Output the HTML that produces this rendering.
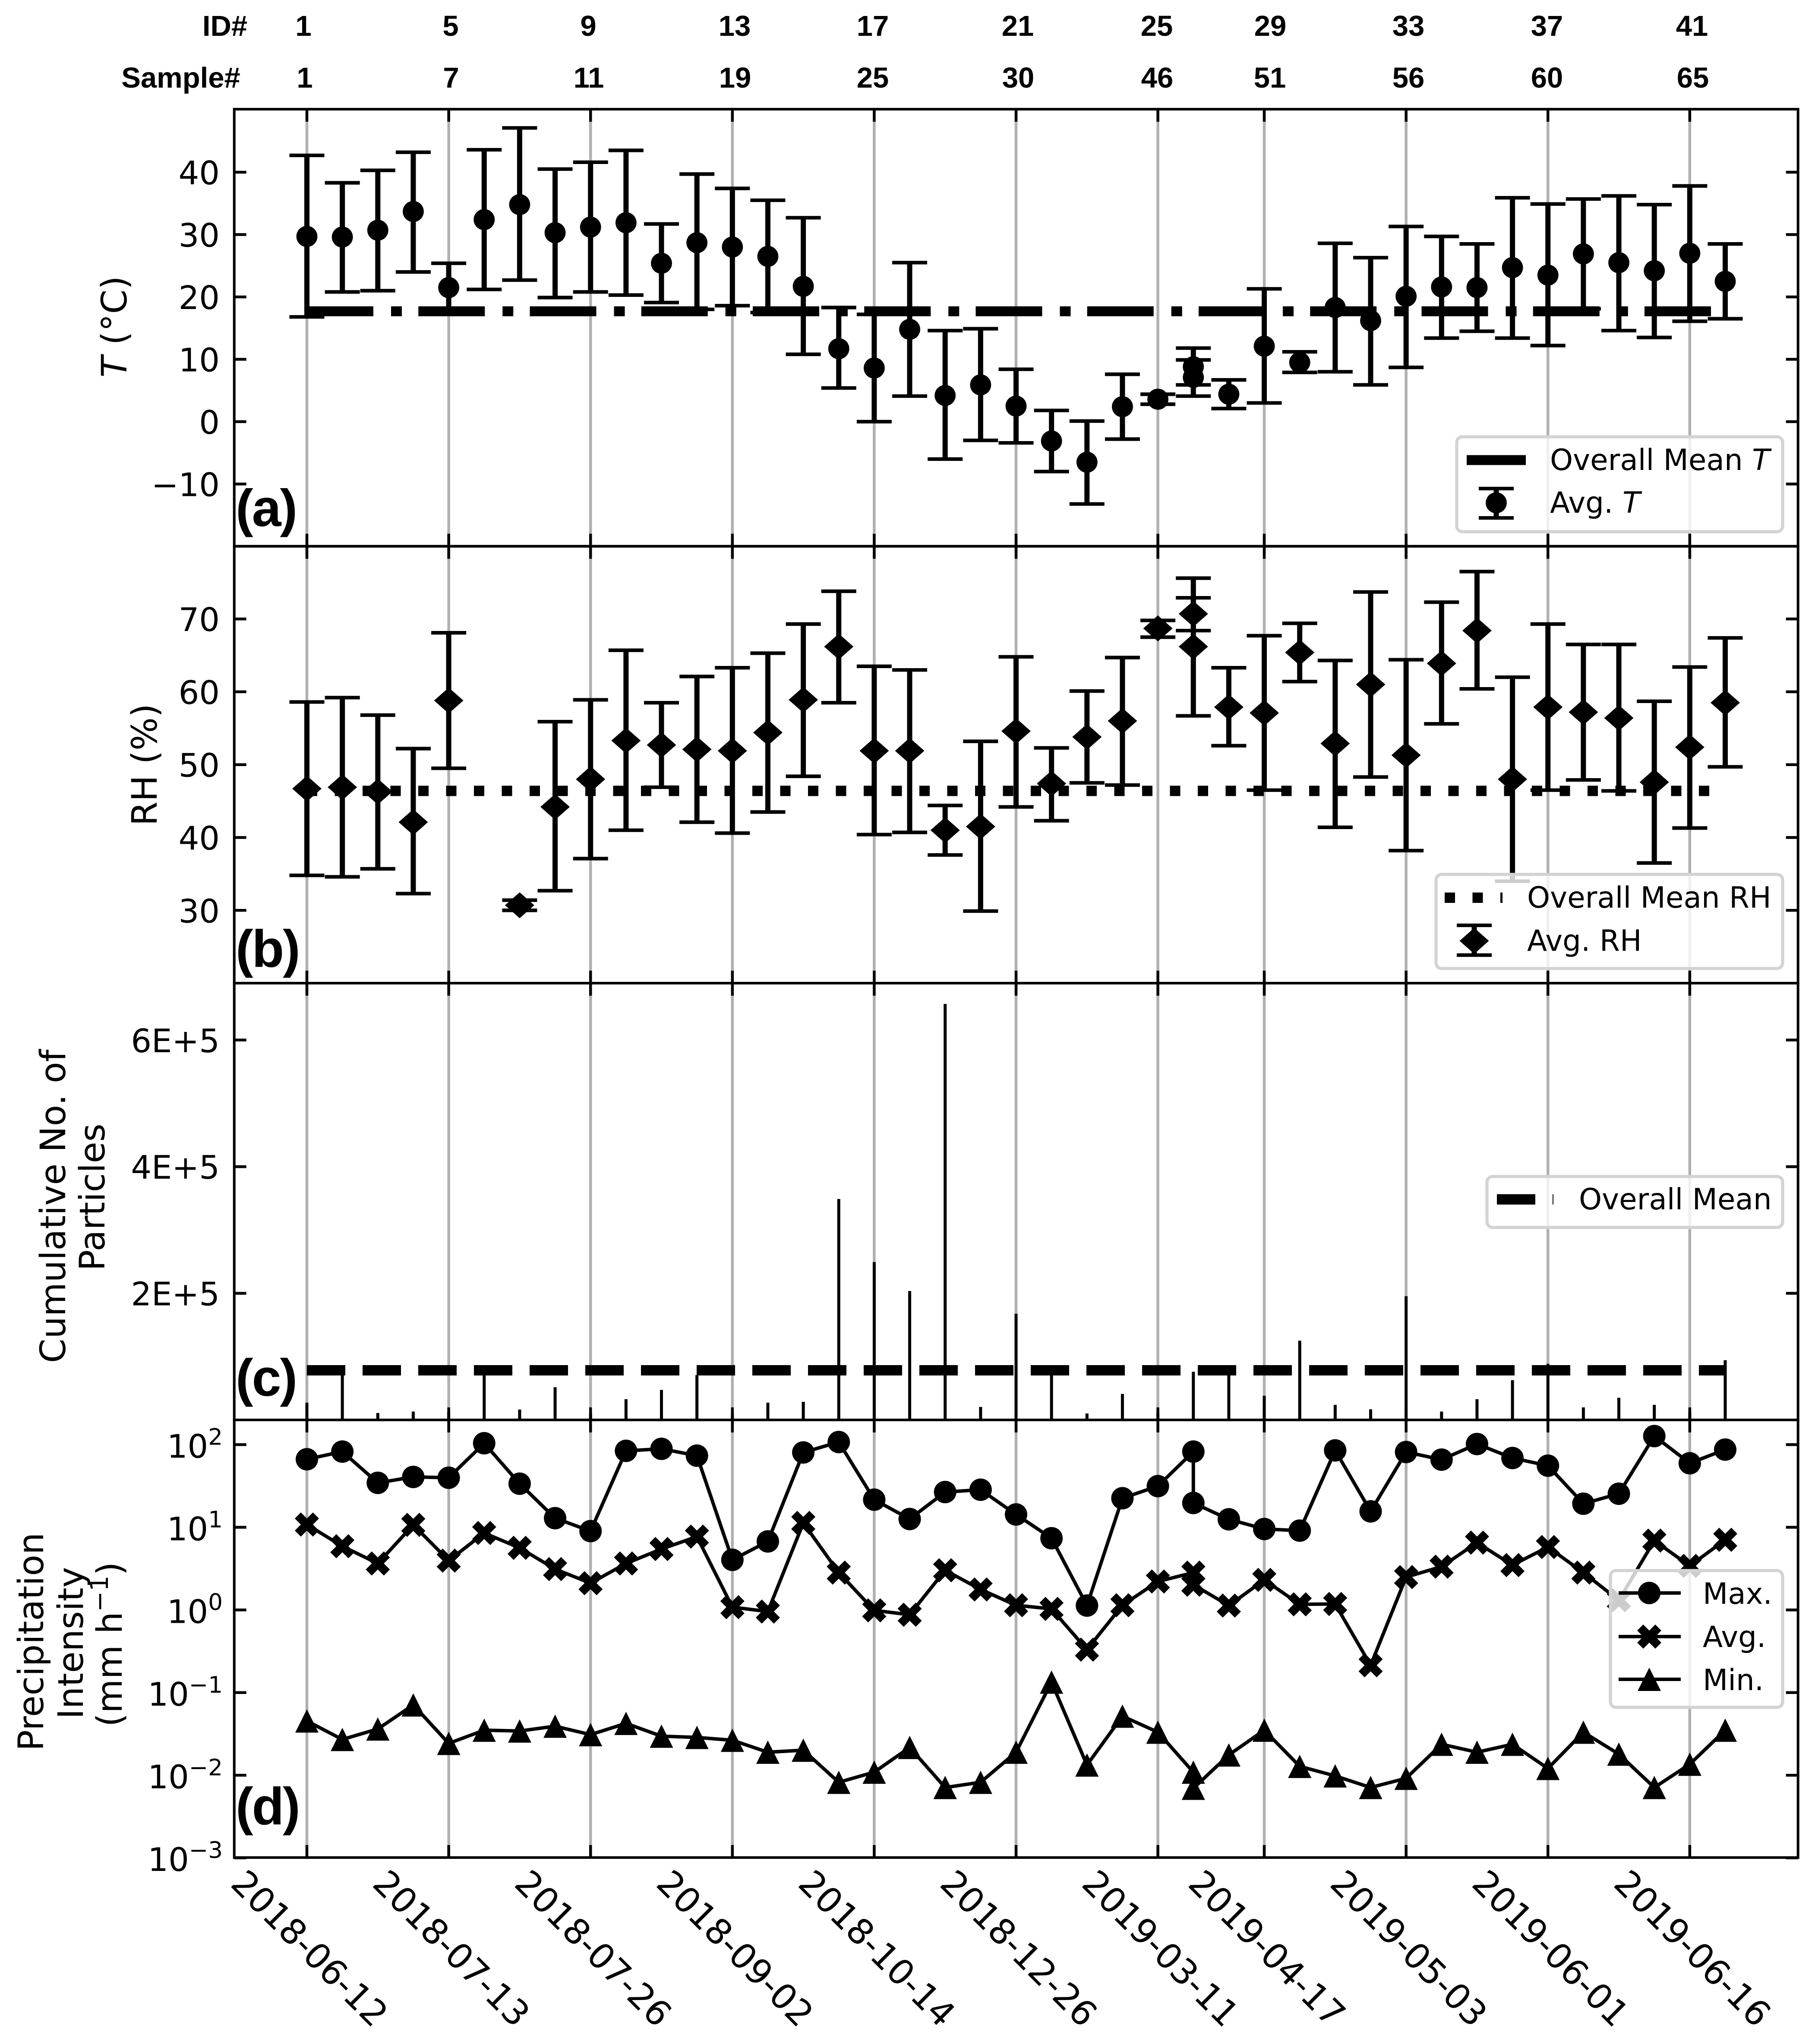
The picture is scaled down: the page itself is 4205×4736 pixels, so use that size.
<!DOCTYPE html>
<html lang="en">
<head>
<meta charset="utf-8">
<title>Sampling conditions time series</title>
<style>
html,body{margin:0;padding:0;background:#fff;}
svg{display:block;}
text{font-family:"DejaVu Sans",sans-serif;fill:#000;}
.top{font-family:"Liberation Sans",sans-serif;font-weight:700;font-size:67px;text-anchor:middle;}
.letter{font-family:"Liberation Sans",sans-serif;font-weight:700;font-size:122px;letter-spacing:-3px;}
.title{font-size:81px;text-anchor:middle;}
.tick{font-size:75px;text-anchor:end;}
.leg{font-size:67.5px;}
</style>
</head>
<body>
<svg id="chart" xmlns="http://www.w3.org/2000/svg" width="4205" height="4736" viewBox="0 0 4205 4736">
<rect x="0" y="0" width="4205" height="4736" fill="#fff"/>

<g>
<text class="top" x="521" y="83">ID#</text>
<text class="top" x="419" y="203">Sample#</text>
<text class="top" x="703" y="83">1</text>
<text class="top" x="1044" y="83">5</text>
<text class="top" x="1363" y="83">9</text>
<text class="top" x="1702" y="83">13</text>
<text class="top" x="2022" y="83">17</text>
<text class="top" x="2358" y="83">21</text>
<text class="top" x="2680" y="83">25</text>
<text class="top" x="2943" y="83">29</text>
<text class="top" x="3263" y="83">33</text>
<text class="top" x="3584" y="83">37</text>
<text class="top" x="3920" y="83">41</text>
<text class="top" x="706" y="203">1</text>
<text class="top" x="1045" y="203">7</text>
<text class="top" x="1364" y="203">11</text>
<text class="top" x="1703" y="203">19</text>
<text class="top" x="2022" y="203">25</text>
<text class="top" x="2359" y="203">30</text>
<text class="top" x="2681" y="203">46</text>
<text class="top" x="2942" y="203">51</text>
<text class="top" x="3263" y="203">56</text>
<text class="top" x="3584" y="203">60</text>
<text class="top" x="3922" y="203">65</text>
</g>

<g id="grid"></g>
<g id="data"></g>
<g id="axes"></g>

<g>
<text class="title" transform="translate(293 757) rotate(-90)"><tspan font-style="italic">T</tspan> (°C)</text>
<text class="title" transform="translate(363 1772) rotate(-90)">RH (%)</text>
<text class="title" transform="translate(151 2795) rotate(-90)">Cumulative No. of</text>
<text class="title" transform="translate(242 2774) rotate(-90)">Particles</text>
<text class="title" transform="translate(100 3804) rotate(-90)">Precipitation</text>
<text class="title" transform="translate(192 3807) rotate(-90)">Intensity</text>
<text class="title" transform="translate(282 3810) rotate(-90)">(mm h<tspan font-size="57" dy="-32">−1</tspan><tspan dy="32">)</tspan></text>
</g>

<g>
<text class="letter" x="546" y="1219">(a)</text>
<text class="letter" x="546" y="2240">(b)</text>
<text class="letter" x="546" y="3234">(c)</text>
<text class="letter" x="546" y="4227">(d)</text>
</g>

<g>
<rect x="3375" y="1012" width="755" height="220" rx="13" fill="#fff" fill-opacity="0.8" stroke="#d3d3d3" stroke-width="7.3"/>
<line x1="3398" y1="1066" x2="3535" y2="1066" stroke="#000" stroke-width="23"/>
<line x1="3466.5" y1="1132" x2="3466.5" y2="1200" stroke="#000" stroke-width="12"/>
<line x1="3426" y1="1132" x2="3507" y2="1132" stroke="#000" stroke-width="8.3"/>
<line x1="3426" y1="1200" x2="3507" y2="1200" stroke="#000" stroke-width="8.3"/>
<circle cx="3466.5" cy="1165" r="24.4"/>
<text class="leg" x="3591" y="1089">Overall Mean <tspan font-style="italic">T</tspan></text>
<text class="leg" x="3591" y="1188">Avg. <tspan font-style="italic">T</tspan></text>
</g>

<g>
<rect x="3327" y="2026" width="803" height="218" rx="13" fill="#fff" fill-opacity="0.8" stroke="#d3d3d3" stroke-width="7.3"/>
<line x1="3347" y1="2080" x2="3481" y2="2080" stroke="#000" stroke-width="24" stroke-dasharray="24 40.5"/>
<line x1="3375" y1="2144" x2="3456" y2="2144" stroke="#000" stroke-width="8.3"/>
<line x1="3375" y1="2213" x2="3456" y2="2213" stroke="#000" stroke-width="8.3"/>
<line x1="3415.5" y1="2144" x2="3415.5" y2="2213" stroke="#000" stroke-width="12"/>
<polygon points="3415.5,2150 3449.5,2180 3415.5,2210 3381.5,2180"/>
<text class="leg" x="3538" y="2103">Overall Mean RH</text>
<text class="leg" x="3538" y="2203">Avg. RH</text>
</g>

<g>
<rect x="3445" y="2726" width="685" height="118" rx="13" fill="#fff" fill-opacity="0.8" stroke="#d3d3d3" stroke-width="7.3"/>
<line x1="3468" y1="2779" x2="3599" y2="2779" stroke="#000" stroke-width="24" stroke-dasharray="89 40"/>
<text class="leg" x="3658" y="2802">Overall Mean</text>
</g>

<g>
<rect x="3731" y="3639" width="399" height="317" rx="13" fill="#fff" fill-opacity="0.8" stroke="#d3d3d3" stroke-width="7.3"/>
<line x1="3750" y1="3691" x2="3894" y2="3691" stroke="#000" stroke-width="8"/>
<circle cx="3821" cy="3691" r="26"/>
<line x1="3750" y1="3792" x2="3894" y2="3792" stroke="#000" stroke-width="8"/>
<polygon points="3807,3764 3821,3778 3835,3764 3849,3778 3835,3792 3849,3806 3835,3820 3821,3806 3807,3820 3793,3806 3807,3792 3793,3778"/>
<line x1="3750" y1="3891" x2="3894" y2="3891" stroke="#000" stroke-width="8"/>
<polygon points="3821,3864 3848,3918 3794,3918"/>
<text class="leg" x="3945" y="3716">Max.</text>
<text class="leg" x="3945" y="3816">Avg.</text>
<text class="leg" x="3945" y="3916">Min.</text>
</g>
</svg>

<script>
// Shared x layout: ID 26 and ID 27 share one position.
const xGroup = [0,1,2,3,4,5,6,7,8,9,10,11,12,13,14,15,16,17,18,19,20,21,22,23,24,25,25,26,27,28,29,30,31,32,33,34,35,36,37,38,39,40];
const tickGroups = [0,4,8,12,16,20,24,27,31,35,39];
const dateLabels = ["2018-06-12","2018-07-13","2018-07-26","2018-09-02","2018-10-14","2018-12-26","2019-03-11","2019-04-17","2019-05-03","2019-06-01","2019-06-16"];

// Panel (a) temperature
const tMean = [29.7,29.6,30.7,33.7,21.5,32.4,34.8,30.3,31.2,31.9,25.4,28.7,28.0,26.5,21.7,11.7,8.6,14.8,4.2,5.9,2.5,-3.1,-6.5,2.4,3.6,8.8,7.1,4.4,12.1,9.5,18.3,16.2,20.1,21.6,21.5,24.7,23.5,26.9,25.5,24.2,27.0,22.5];
const tUpper = [42.7,38.3,40.3,43.2,25.4,43.6,47.1,40.5,41.6,43.5,31.7,39.7,37.4,35.5,32.7,18.3,17.2,25.5,14.6,14.9,8.4,1.8,0.1,7.6,4.4,11.8,9.9,6.7,21.3,11.2,28.6,26.3,31.3,29.7,28.5,35.9,34.9,35.7,36.2,34.8,37.8,28.5];
const tLower = [16.8,20.8,21.0,24.0,17.7,21.2,22.7,19.9,20.8,20.3,19.1,18.0,18.6,17.5,10.8,5.4,0,4.1,-6.0,-3.0,-3.4,-8.0,-13.2,-2.8,2.8,5.9,4.1,2.1,3.0,7.9,8.0,5.9,8.7,13.4,14.5,13.4,12.2,18.1,14.6,13.5,16.1,16.5];
const tOverallMean = 17.7;
const tTicks = [-10,0,10,20,30,40];

// Panel (b) relative humidity
const rhMean = [46.7,46.9,46.3,42.1,58.8,null,30.7,44.2,48.0,53.3,52.7,52.1,51.9,54.4,58.9,66.2,51.9,51.9,41.0,41.5,54.6,47.4,53.8,56.0,68.7,70.7,66.2,57.9,57.1,65.4,52.9,61.0,51.3,63.9,68.4,48.0,57.9,57.2,56.4,47.6,52.4,58.5];
const rhUpper = [58.6,59.2,56.8,52.2,68.1,null,31.4,55.9,58.9,65.7,58.5,62.1,63.3,65.3,69.3,73.8,63.5,63.0,44.4,53.2,64.8,52.3,60.1,64.7,69.8,75.6,72.9,63.3,67.7,69.4,64.3,73.7,64.4,72.3,76.5,62.0,69.3,66.5,66.5,58.7,63.4,67.4];
const rhLower = [34.8,34.6,35.7,32.3,49.5,null,30.0,32.7,37.1,41.0,46.9,42.1,40.6,43.5,48.4,58.5,40.4,40.7,37.6,29.9,44.2,42.3,47.5,47.2,67.5,68.4,56.7,52.6,46.5,61.4,41.4,48.3,38.2,55.6,60.4,34.0,46.5,47.9,46.4,36.5,41.3,49.7];
const rhOverallMean = 46.4;
const rhTicks = [30,40,50,60,70];

// Panel (c) cumulative particles (stems at each distinct x position)
const particleGroups = [0,1,2,3,4,5,6,7,8,9,10,11,12,13,14,15,16,17,18,19,20,21,22,23,24,25,26,27,28,29,30,31,32,33,34,35,36,37,38,39,40];
const particleCounts = [27300,75000,10900,13200,12000,75000,16400,51600,10000,32700,47500,70900,10000,27300,28600,348900,249300,203600,657000,20500,167600,75000,10200,41100,11600,76100,75000,38200,125200,23900,16800,195400,13200,32700,62700,88600,19800,35000,23900,12000,94300];
const particleOverallMean = 78400;
const particleTicks = [200000,400000,600000];
const particleTickLabels = ["2E+5","4E+5","6E+5"];

// Panel (d) precipitation intensity
const precipMax = [66.6,82.4,34.5,40.7,39.8,104,33.7,12.9,9.0,84.2,89,73.6,4.04,6.75,80.5,107.6,21.6,12.6,26.7,28.5,14.3,7.38,1.13,22.5,31.5,82.4,19.7,12.5,9.54,9.12,85.2,15.6,81.4,65.9,101.8,68.9,55.7,19.3,25.5,127,59.6,87.1];
const precipAvg = [10.8,5.90,3.65,10.7,3.95,8.53,5.64,3.12,2.11,3.65,5.46,7.71,1.08,0.957,11.3,2.83,0.989,0.875,3.02,1.77,1.14,1.03,0.331,1.14,2.21,2.83,2.02,1.13,2.31,1.17,1.18,0.214,2.50,3.34,6.53,3.49,5.77,2.83,1.31,6.90,3.41,7.06];
const precipMin = [0.0454,0.0271,0.0363,0.0709,0.0243,0.0351,0.0343,0.0392,0.0310,0.0424,0.0297,0.0287,0.0265,0.0190,0.0201,0.00822,0.0109,0.0217,0.00711,0.00822,0.0190,0.134,0.0133,0.0519,0.0332,0.0109,0.00695,0.0176,0.0351,0.0128,0.00982,0.00711,0.00919,0.0237,0.0190,0.0237,0.0121,0.0332,0.0180,0.00711,0.0136,0.0351];
const precipTickExponents = [2,1,0,-1,-2,-3];

// Axis functions
const FRAME_LEFT = 542.7, FRAME_RIGHT = 4165.7;
const xAxis = g => 711 + 82.15 * g;
const yT = v => 977 - 14.45 * v;
const yRH = v => 2109.3 - 16.88 * (v - 30);
const yCount = v => 3290 - v * 293.4 / 200000;
const yPrecip = v => 3730.3 - 191.5 * Math.log10(v);

const NS = 'http://www.w3.org/2000/svg';
const gridLayer = document.getElementById('grid');
const dataLayer = document.getElementById('data');
const axesLayer = document.getElementById('axes');

function mk(tag, attrs, parent) {
  const e = document.createElementNS(NS, tag);
  for (const k in attrs) e.setAttribute(k, attrs[k]);
  parent.appendChild(e);
  return e;
}
function ln(x1, y1, x2, y2, w, parent, color) {
  return mk('line', {x1: x1, y1: y1, x2: x2, y2: y2, stroke: color || '#000', 'stroke-width': w}, parent);
}
function circlePts(x, y, r, parent) {
  return mk('circle', {cx: x, cy: y, r: r, fill: '#000'}, parent);
}
function diamond(x, y, parent) {
  const a = 34, b = 30;
  return mk('polygon', {points: [x, y - b, x + a, y, x, y + b, x - a, y].join(' '), fill: '#000'}, parent);
}
function xMark(x, y, parent) {
  const u = 14;
  const shape = [[-1,-2],[0,-1],[1,-2],[2,-1],[1,0],[2,1],[1,2],[0,1],[-1,2],[-2,1],[-1,0],[-2,-1]];
  return mk('polygon', {points: shape.map(p => (x + p[0] * u) + ',' + (y + p[1] * u)).join(' '), fill: '#000'}, parent);
}
function triangle(x, y, parent) {
  const h = 27;
  return mk('polygon', {points: [x, y - h, x + h, y + h, x - h, y + h].join(' '), fill: '#000'}, parent);
}

// Panel frames, grid and ticks
const panelTops = [253, 1265.7, 2278, 3290];
const panelBottoms = [1265.7, 2278, 3290, 4304];
panelTops.forEach((top, idx) => {
  const bottom = panelBottoms[idx];
  tickGroups.forEach(g => {
    const x = xAxis(g);
    const gl = ln(x, top, x, bottom, 6.5, gridLayer, '#b0b0b0');
    
    
    const t1 = ln(x, top, x, top + 29, 6.5, axesLayer);
    
    
    const t2 = ln(x, bottom - 29, x, bottom, 6.5, axesLayer);
    
    
  });
  const frame = mk('rect', {x: FRAME_LEFT, y: top, width: FRAME_RIGHT - FRAME_LEFT, height: bottom - top, fill: 'none', stroke: '#000', 'stroke-width': 6}, axesLayer);
  
  
});

function yTick(y, label) {
  const a = ln(FRAME_LEFT, y, FRAME_LEFT + 28, y, 6.5, axesLayer);
  
  
  const b = ln(FRAME_RIGHT - 28, y, FRAME_RIGHT, y, 6.5, axesLayer);
  
  
  const t = mk('text', {class: 'tick', x: 509, y: y + 28}, axesLayer);
  t.textContent = label;
  
  
}
tTicks.forEach(v => yTick(yT(v), String(v).replace('-', '\u2212')));
rhTicks.forEach(v => yTick(yRH(v), String(v)));
particleTicks.forEach((v, i) => yTick(yCount(v), particleTickLabels[i]));
precipTickExponents.forEach(ex => {
  const y = yPrecip(Math.pow(10, ex));
  const a = ln(FRAME_LEFT, y, FRAME_LEFT + 28, y, 6.5, axesLayer);
  
  
  const b = ln(FRAME_RIGHT - 28, y, FRAME_RIGHT, y, 6.5, axesLayer);
  
  
  const t = mk('text', {class: 'tick', x: 516, y: y + 30}, axesLayer);
  
  
  const base = mk('tspan', {}, t);
  base.textContent = '10';
  const sup = mk('tspan', {'font-size': 53, dy: -30}, t);
  sup.textContent = String(ex).replace('-', '\u2212');
});

// X date labels
tickGroups.forEach((g, i) => {
  const t = mk('text', {'font-size': 81, 'text-anchor': 'middle', y: 29, transform: 'translate(' + (xAxis(g) + 7) + ' 4514) rotate(45)'}, axesLayer);
  t.textContent = dateLabels[i];
  
  
});

// Panel (a)
const meanT = ln(xAxis(0), yT(tOverallMean), xAxis(40), yT(tOverallMean), 23, dataLayer);
meanT.setAttribute('stroke-dasharray', '154 41 25 38.25');



xGroup.forEach((g, i) => {
  const x = xAxis(g);
  const s = ln(x, yT(tUpper[i]), x, yT(tLower[i]), 12, dataLayer);
  
  
  const c1 = ln(x - 40.5, yT(tUpper[i]), x + 40.5, yT(tUpper[i]), 8.3, dataLayer);
  
  
  const c2 = ln(x - 40.5, yT(tLower[i]), x + 40.5, yT(tLower[i]), 8.3, dataLayer);
  
  
  const m = circlePts(x, yT(tMean[i]), 24.4, dataLayer);
  
  
});

// Panel (b)
const meanRH = ln(xAxis(0), yRH(rhOverallMean), xAxis(40), yRH(rhOverallMean), 24, dataLayer);
meanRH.setAttribute('stroke-dasharray', '24 40.5');



xGroup.forEach((g, i) => {
  if (rhMean[i] === null) return;
  const x = xAxis(g);
  const s = ln(x, yRH(rhUpper[i]), x, yRH(rhLower[i]), 12, dataLayer);
  
  
  const c1 = ln(x - 40.5, yRH(rhUpper[i]), x + 40.5, yRH(rhUpper[i]), 8.3, dataLayer);
  
  
  const c2 = ln(x - 40.5, yRH(rhLower[i]), x + 40.5, yRH(rhLower[i]), 8.3, dataLayer);
  
  
  const m = diamond(x, yRH(rhMean[i]), dataLayer);
  
  
});

// Panel (c)
particleGroups.forEach((g, i) => {
  const x = xAxis(g);
  const s = ln(x, yCount(0), x, yCount(particleCounts[i]), 7, dataLayer);
  
  
});
const meanCount = ln(xAxis(0), yCount(particleOverallMean), xAxis(40), yCount(particleOverallMean), 24, dataLayer);
meanCount.setAttribute('stroke-dasharray', '89 40');



// Panel (d)
function seriesLine(values) {
  return xGroup.map((g, i) => xAxis(g) + ',' + yPrecip(values[i])).join(' ');
}
const lineMax = mk('polyline', {points: seriesLine(precipMax), fill: 'none', stroke: '#000', 'stroke-width': 8}, dataLayer);


const lineAvg = mk('polyline', {points: seriesLine(precipAvg), fill: 'none', stroke: '#000', 'stroke-width': 8}, dataLayer);


const lineMin = mk('polyline', {points: seriesLine(precipMin), fill: 'none', stroke: '#000', 'stroke-width': 8}, dataLayer);


xGroup.forEach((g, i) => {
  const x = xAxis(g);
  const a = circlePts(x, yPrecip(precipMax[i]), 26, dataLayer);
  
  
  const b = xMark(x, yPrecip(precipAvg[i]), dataLayer);
  
  
  const c = triangle(x, yPrecip(precipMin[i]), dataLayer);
  
  
});
</script>
</body>
</html>
